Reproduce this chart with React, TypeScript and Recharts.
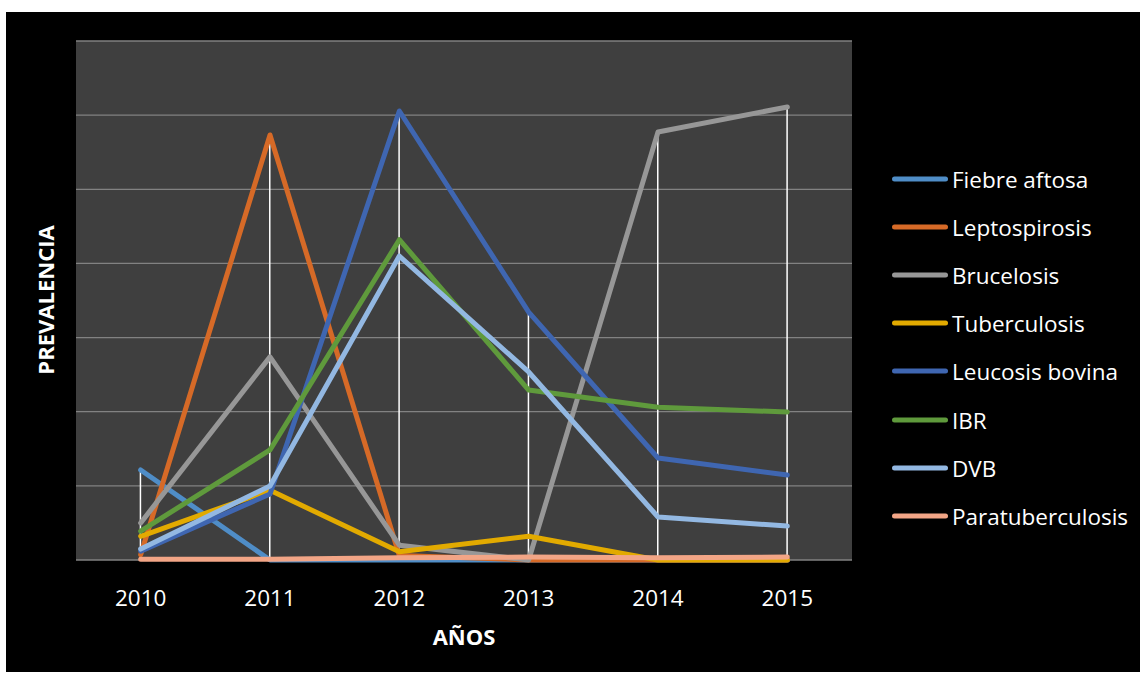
import React from 'react';
import { ComposedChart, Line, Bar, XAxis, YAxis, CartesianGrid } from 'recharts';

const YEARS = ['2010', '2011', '2012', '2013', '2014', '2015'];

const FIEBRE_AFTOSA = [6.07, 0, 0, 0, 0, 0];
const LEPTOSPIROSIS = [0.35, 28.66, 0.3, 0, 0, 0];
const BRUCELOSIS = [2.5, 13.7, 1.0, 0, 28.86, 30.55];
const TUBERCULOSIS = [1.6, 4.7, 0.55, 1.6, 0, 0];
const LEUCOSIS_BOVINA = [0.6, 4.45, 30.28, 16.72, 6.88, 5.73];
const IBR = [1.95, 7.42, 21.6, 11.46, 10.3, 9.98];
const DVB = [0.74, 4.99, 20.5, 12.68, 2.9, 2.29];
const PARATUBERCULOSIS = [0.05, 0.05, 0.15, 0.2, 0.15, 0.2];

const Y_TICKS = [0, 5, 10, 15, 20, 25, 30, 35];

const SERIES = [
  { key: 'fiebre', name: 'Fiebre aftosa', values: FIEBRE_AFTOSA, color: '#4f8dc7' },
  { key: 'lepto', name: 'Leptospirosis', values: LEPTOSPIROSIS, color: '#d66a27' },
  { key: 'bruce', name: 'Brucelosis', values: BRUCELOSIS, color: '#979797' },
  { key: 'tuber', name: 'Tuberculosis', values: TUBERCULOSIS, color: '#e2aa00' },
  { key: 'leuc', name: 'Leucosis bovina', values: LEUCOSIS_BOVINA, color: '#3f66b1' },
  { key: 'ibr', name: 'IBR', values: IBR, color: '#5f9a3c' },
  { key: 'dvb', name: 'DVB', values: DVB, color: '#93b8e2' },
  { key: 'para', name: 'Paratuberculosis', values: PARATUBERCULOSIS, color: '#f2a586' },
];

const data = YEARS.map((year, i) => {
  const row: Record<string, string | number> = { year };
  SERIES.forEach((s) => {
    row[s.key] = s.values[i];
  });
  // top of the white drop line = highest value of the year
  row.peak = Math.max(...SERIES.map((s) => s.values[i]));
  return row;
});

const FONT = '"Open Sans", sans-serif';

const DropLine = (props: any) => {
  const { x, y, width, height } = props;
  const cx = x + width / 2;
  return <line x1={cx} x2={cx} y1={y} y2={y + height} stroke="#ffffff" strokeWidth={1.5} />;
};

const YearTick = (props: any) => {
  const { x, y, payload } = props;
  return (
    <text x={x} y={y + 37} fill="#ffffff" fontSize={22.5} fontFamily={FONT} textAnchor="middle" dominantBaseline="central">
      {payload.value}
    </text>
  );
};

export default function App() {
  return (
    <div style={{ position: 'relative', width: 1143, height: 676, background: '#ffffff', fontFamily: FONT }}>
      <style>{'body{margin:0}'}</style>
      <div style={{ position: 'absolute', left: 6, top: 12, width: 1134, height: 660, background: '#000000' }}>
        <ComposedChart
          width={1134}
          height={660}
          data={data}
          margin={{ top: 29, right: 288, left: 70, bottom: 0 }}
        >
          <CartesianGrid vertical={false} fill="#3f3f3f" fillOpacity={1} stroke="#828282" strokeWidth={1.3} />
          <XAxis
            dataKey="year"
            height={112}
            axisLine={false}
            tickLine={false}
            tickSize={0}
            tickMargin={0}
            tick={<YearTick />}
            interval={0}
          />
          <YAxis hide domain={[0, 35]} ticks={Y_TICKS} />
          <Bar dataKey="peak" shape={<DropLine />} isAnimationActive={false} />
          {SERIES.map((s) => (
            <Line
              key={s.key}
              dataKey={s.key}
              name={s.name}
              stroke={s.color}
              strokeWidth={5}
              strokeLinecap="round"
              strokeLinejoin="round"
              dot={false}
              activeDot={false}
              isAnimationActive={false}
            />
          ))}
        </ComposedChart>

        <div
          style={{
            position: 'absolute',
            left: 39,
            top: 288,
            transform: 'translate(-50%, -50%) rotate(-90deg)',
            color: '#ffffff',
            fontWeight: 700,
            fontSize: 22,
            whiteSpace: 'nowrap',
          }}
        >
          PREVALENCIA
        </div>
        <div
          style={{
            position: 'absolute',
            left: 458,
            top: 624,
            transform: 'translate(-50%, -50%)',
            color: '#ffffff',
            fontWeight: 700,
            fontSize: 22,
            whiteSpace: 'nowrap',
          }}
        >
          AÑOS
        </div>

        {SERIES.map((s, i) => (
          <div
            key={s.key}
            style={{
              position: 'absolute',
              left: 886,
              top: 166.5 + i * 48.2,
              transform: 'translateY(-50%)',
              display: 'flex',
              alignItems: 'center',
              color: '#ffffff',
              fontSize: 22.5,
              whiteSpace: 'nowrap',
            }}
          >
            <span style={{ display: 'inline-block', width: 56, height: 5, borderRadius: 3, background: s.color, marginRight: 4 }} />
            <span>{s.name}</span>
          </div>
        ))}
      </div>
    </div>
  );
}
